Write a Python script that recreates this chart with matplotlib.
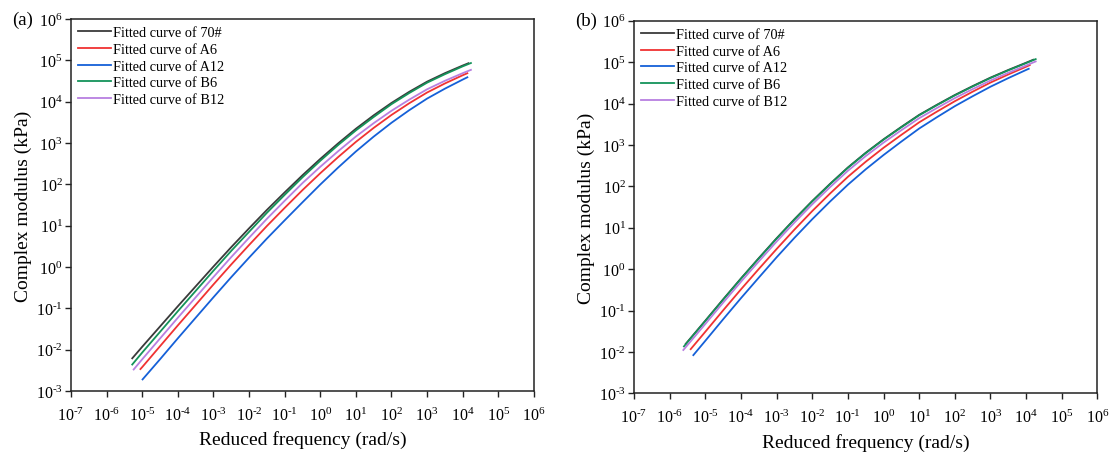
import numpy as np
import matplotlib
matplotlib.use("Agg")
import matplotlib.pyplot as plt
from matplotlib.ticker import FixedLocator, FixedFormatter

plt.rcParams['font.family'] = ['Liberation Serif', 'DejaVu Serif']
plt.rcParams['mathtext.fontset'] = 'custom'
plt.rcParams['mathtext.rm'] = 'Liberation Serif'
plt.rcParams['mathtext.it'] = 'Liberation Serif:italic'
plt.rcParams['mathtext.default'] = 'regular'
plt.rcParams['axes.unicode_minus'] = False

labels = ["Fitted curve of 70#", "Fitted curve of A6", "Fitted curve of A12",
          "Fitted curve of B6", "Fitted curve of B12"]
colors = ["#3a3a3a", "#f03232", "#1560d8", "#14935a", "#b87fe0"]

x_exponents = list(range(-7, 7))
y_exponents = list(range(-3, 7))

# ---- Panel (a): log10 reduced frequency / log10 complex modulus (kPa) ----
half = [-5.0, -4.5, -4.0, -3.5, -3.0, -2.5, -2.0, -1.5, -1.0, -0.5,
        0.0, 0.5, 1.0, 1.5, 2.0, 2.5, 3.0, 3.5, 4.0]

a_70_x = [-5.28] + half + [4.16]
a_70_y = [-2.21, -1.93, -1.44, -0.95, -0.47, 0.01, 0.48, 0.935, 1.38, 1.805, 2.22,
          2.615, 2.99, 3.345, 3.67, 3.97, 4.24, 4.485, 4.69, 4.875, 4.93]

a_A6_x = [-5.05] + half + [4.13]
a_A6_y = [-2.47, -2.422, -1.917, -1.413, -0.918, -0.423, 0.061, 0.531, 0.991, 1.43, 1.86,
          2.269, 2.658, 3.027, 3.366, 3.679, 3.963, 4.222, 4.441, 4.64, 4.688]

a_A12_x = [-4.99] + half[1:] + [4.13]
a_A12_y = [-2.72, -2.233, -1.726, -1.229, -0.733, -0.246, 0.226, 0.687, 1.129, 1.565,
           1.995, 2.405, 2.795, 3.155, 3.49, 3.795, 4.075, 4.315, 4.535, 4.59]

a_B6_x = [-5.28] + half + [4.23]
a_B6_y = [-2.36, -2.07, -1.57, -1.07, -0.58, -0.09, 0.39, 0.85, 1.31, 1.745, 2.17,
          2.57, 2.95, 3.305, 3.63, 3.94, 4.21, 4.46, 4.665, 4.855, 4.935]

a_B12_x = [-5.24] + half + [4.23]
a_B12_y = [-2.48, -2.233, -1.73, -1.228, -0.735, -0.243, 0.24, 0.707, 1.165, 1.602, 2.03,
           2.425, 2.80, 3.157, 3.48, 3.78, 4.05, 4.30, 4.505, 4.69, 4.77]

# ---- Panel (b) ----
b_70_x = [-5.55, -5.5] + half + [4.2]
b_70_y = [-1.806, -1.755, -1.245, -0.73, -0.225, 0.265, 0.745, 1.205, 1.645, 2.06, 2.455,
          2.81, 3.135, 3.435, 3.725, 3.97, 4.205, 4.42, 4.625, 4.81, 4.985, 5.057]

b_A6_x = [-5.411] + half + [4.103]
b_A6_y = [-1.934, -1.513, -0.996, -0.489, 0.003, 0.485, 0.954, 1.402, 1.826, 2.229, 2.593,
          2.93, 3.242, 3.545, 3.805, 4.055, 4.285, 4.505, 4.701, 4.888, 4.927]

b_A12_x = [-5.336] + half + [4.075]
b_A12_y = [-2.078, -1.732, -1.212, -0.702, -0.206, 0.285, 0.755, 1.205, 1.632, 2.038, 2.41,
           2.755, 3.08, 3.395, 3.67, 3.935, 4.175, 4.405, 4.613, 4.81, 4.839]

b_B6_x = [-5.6, -5.5] + half + [4.27]
b_B6_y = [-1.867, -1.765, -1.255, -0.74, -0.235, 0.255, 0.735, 1.195, 1.635, 2.05, 2.445,
          2.80, 3.125, 3.425, 3.715, 3.96, 4.195, 4.41, 4.615, 4.80, 4.975, 5.072]

b_B12_x = [-5.617, -5.5] + half + [4.27]
b_B12_y = [-1.954, -1.835, -1.325, -0.81, -0.305, 0.185, 0.665, 1.125, 1.565, 1.98, 2.375,
           2.73, 3.055, 3.355, 3.645, 3.892, 4.13, 4.347, 4.555, 4.742, 4.918, 5.016]

panel_a = [(a_70_x, a_70_y), (a_A6_x, a_A6_y), (a_A12_x, a_A12_y), (a_B6_x, a_B6_y), (a_B12_x, a_B12_y)]
panel_b = [(b_70_x, b_70_y), (b_A6_x, b_A6_y), (b_A12_x, b_A12_y), (b_B6_x, b_B6_y), (b_B12_x, b_B12_y)]


def pow_label(k):
    if k < 0:
        return r'$10^{\text{-%d}}$' % (-k)
    return r'$10^{%d}$' % k


fig = plt.figure(figsize=(11.11, 4.56), dpi=100)
ax_a = fig.add_axes([0.0639, 0.1404, 0.4167, 0.8157])
ax_b = fig.add_axes([0.5707, 0.1353, 0.4170, 0.8171])

for ax, data, tag in [(ax_a, panel_a, "(a)"), (ax_b, panel_b, "(b)")]:
    for (xs, ys), c, lab in zip(data, colors, labels):
        ax.plot(np.power(10.0, xs), np.power(10.0, ys), color=c, lw=1.3, label=lab)
    ax.set_xscale('log')
    ax.set_yscale('log')
    ax.set_xlim(1e-7, 1e6)
    ax.set_ylim(1e-3, 1e6)
    ax.xaxis.set_major_locator(FixedLocator([10.0 ** k for k in x_exponents]))
    ax.xaxis.set_major_formatter(FixedFormatter([pow_label(k) for k in x_exponents]))
    ax.yaxis.set_major_locator(FixedLocator([10.0 ** k for k in y_exponents]))
    ax.yaxis.set_major_formatter(FixedFormatter([pow_label(k) for k in y_exponents]))
    ax.minorticks_off()
    ax.tick_params(axis='both', which='major', direction='out', length=4, width=1.0,
                   labelsize=11.5, top=False, right=False, color='#222222')
    ax.tick_params(axis='x', pad=7)
    ax.tick_params(axis='y', pad=2)
    for sp in ax.spines.values():
        sp.set_linewidth(1.1)
        sp.set_color('#222222')
    ax.set_xlabel("Reduced frequency (rad/s)", fontsize=14, labelpad=5)
    ax.set_ylabel("Complex modulus (kPa)", fontsize=14, labelpad=3)
    ax.legend(loc='upper left', frameon=False, fontsize=10.3, handlelength=2.3,
              handletextpad=0.15, labelspacing=0.26, borderaxespad=0.2,
              borderpad=0.3)
    pos = ax.get_position()
    fig.text(pos.x0 - 0.053, pos.y1, tag, fontsize=13.5, ha='left', va='center')

fig.savefig("out.png", dpi=100, facecolor='white')
